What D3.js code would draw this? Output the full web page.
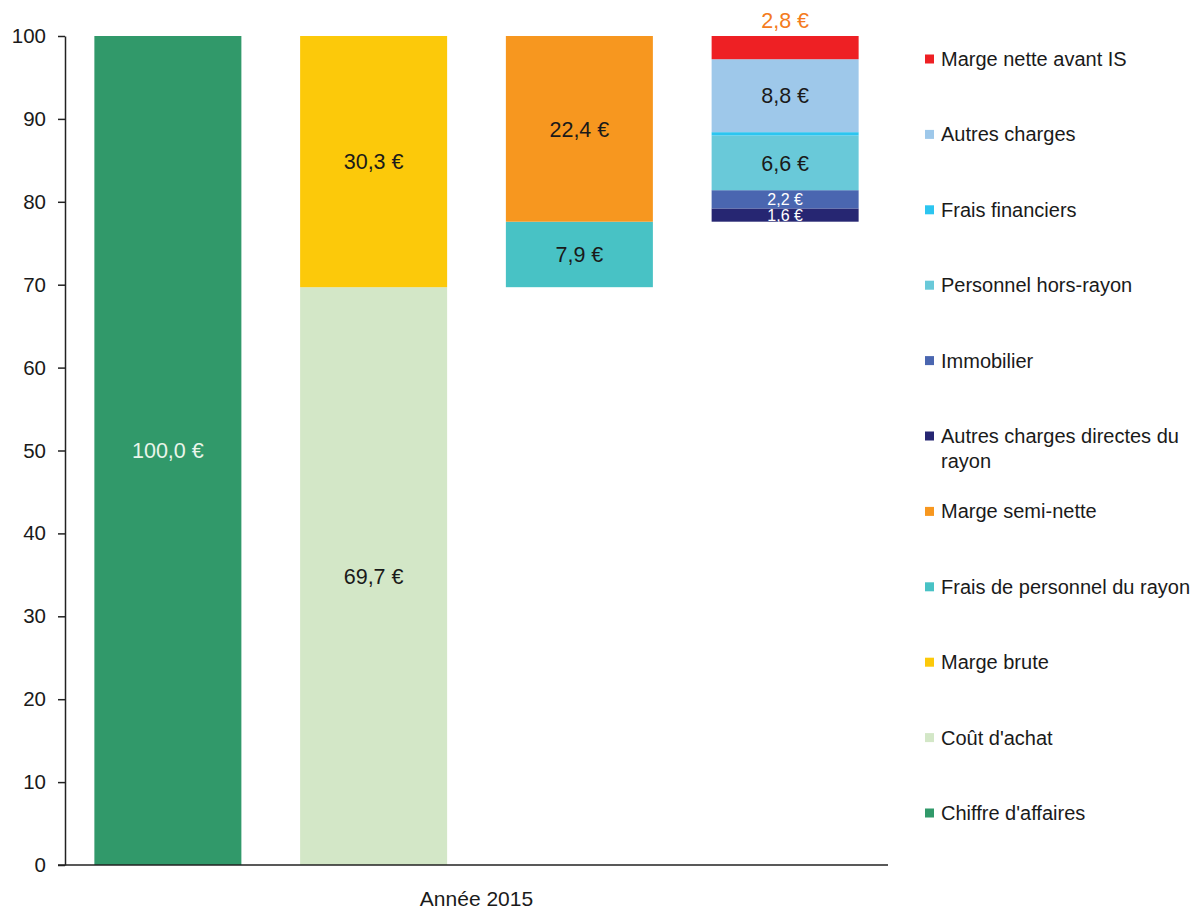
<!DOCTYPE html>
<html>
<head>
<meta charset="utf-8">
<script src="https://cdn.jsdelivr.net/npm/d3@7"></script>
<style>
  html, body { margin: 0; padding: 0; background: #fff; }
  svg { display: block; font-family: "Liberation Sans", Arial, sans-serif; }
</style>
</head>
<body>
<svg id="chart" width="1197" height="912"></svg>
<script>
// ---- data ----
const columns = [0, 1, 2, 3];
const columnBase = [0, 0, 69.7, 77.6];
const xLabel = "Année 2015";
const yTicks = [0, 10, 20, 30, 40, 50, 60, 70, 80, 90, 100];

// series in stacking order (bottom to top)
const seriesNames = [
  "Chiffre d'affaires", "Coût d'achat", "Marge brute",
  "Frais de personnel du rayon", "Marge semi-nette",
  "Autres charges directes du rayon", "Immobilier", "Personnel hors-rayon",
  "Frais financiers", "Autres charges", "Marge nette avant IS"
];
const seriesColumn = [0, 1, 1, 2, 2, 3, 3, 3, 3, 3, 3];
const seriesValues = [100.0, 69.7, 30.3, 7.9, 22.4, 1.6, 2.2, 6.6, 0.4, 8.8, 2.8];
const seriesLabels = ["100,0 €", "69,7 €", "30,3 €", "7,9 €", "22,4 €", "1,6 €", "2,2 €", "6,6 €", "", "8,8 €", "2,8 €"];
const seriesColors = [
  "#31996a", "#d3e7c7", "#fcc90a",
  "#48c2c5", "#f7971f",
  "#262672", "#4a66b0", "#69c9d9",
  "#2cc5f0", "#9ec8ea", "#ee2024"
];
const labelColors = ["#eaf5ea", "#1a1a1a", "#1a1a1a", "#1a1a1a", "#1a1a1a", "#ffffff", "#ffffff", "#1a1a1a", "#1a1a1a", "#1a1a1a", "#f47b20"];
const labelOutside = [false, false, false, false, false, false, false, false, false, false, true];
const labelSmall = [false, false, false, false, false, true, true, false, false, false, false];

// ---- layout ----
const svg = d3.select("#chart");
const mLeft = 65, mRight = 888, mTop = 36, mBottom = 865;

const x = d3.scaleBand().domain(columns).range([mLeft, mRight]).paddingInner(0.2855).paddingOuter(0.14275);
const y = d3.scaleLinear().domain([0, 100]).range([mBottom, mTop]);

// stacking
const running = columnBase.slice();
const segs = seriesNames.map((name, i) => {
  const c = seriesColumn[i];
  const y0 = running[c];
  const y1 = y0 + seriesValues[i];
  running[c] = y1;
  return { name, i, c, y0, y1 };
});

svg.append("g").selectAll("rect").data(segs).join("rect")
  .attr("x", d => x(d.c))
  .attr("width", x.bandwidth())
  .attr("y", d => y(d.y1))
  .attr("height", d => y(d.y0) - y(d.y1))
  .attr("fill", d => seriesColors[d.i]);

// labels
svg.append("g").selectAll("text").data(segs.filter(d => seriesLabels[d.i] !== "")).join("text")
  .attr("x", d => x(d.c) + x.bandwidth() / 2)
  .attr("y", d => labelOutside[d.i] ? y(d.y1) - 8 : (y(d.y0) + y(d.y1)) / 2)
  .attr("dy", d => labelOutside[d.i] ? "0" : "0.36em")
  .attr("text-anchor", "middle")
  .attr("font-size", d => labelSmall[d.i] ? 16 : 21.5)
  .attr("fill", d => labelColors[d.i])
  .text(d => seriesLabels[d.i]);

// y axis
const yAxis = svg.append("g")
  .attr("transform", `translate(${mLeft},0)`)
  .call(d3.axisLeft(y).tickValues(yTicks).tickSize(7).tickSizeOuter(0).tickPadding(12).tickFormat(d3.format("d")));
yAxis.select(".domain").attr("stroke", "#222").attr("stroke-width", 1.5);
yAxis.selectAll(".tick line").attr("stroke", "#222").attr("stroke-width", 1.5);
yAxis.selectAll(".tick text").attr("font-size", 20.5).attr("fill", "#1a1a1a").attr("font-family", "Liberation Sans, Arial, sans-serif");

// x axis line
svg.append("line")
  .attr("x1", mLeft - 7).attr("x2", mRight)
  .attr("y1", y(0)).attr("y2", y(0))
  .attr("stroke", "#222").attr("stroke-width", 1.5);

svg.append("text")
  .attr("x", (mLeft + mRight) / 2).attr("y", 906)
  .attr("text-anchor", "middle")
  .attr("font-size", 21).attr("fill", "#1a1a1a")
  .text(xLabel);

// legend (reverse order)
const legendItems = seriesNames.map((n, i) => i).reverse();
const legendY0 = 59, legendStep = 75.4;
const lg = svg.append("g");
legendItems.forEach((si, k) => {
  const cy = legendY0 + k * legendStep;
  lg.append("rect")
    .attr("x", 925).attr("y", cy - 4.5).attr("width", 9).attr("height", 9)
    .attr("fill", seriesColors[si]);
  const name = seriesNames[si];
  const t = lg.append("text")
    .attr("x", 941).attr("y", cy).attr("dy", "0.35em")
    .attr("font-size", 20).attr("fill", "#1a1a1a");
  if (name === "Autres charges directes du rayon") {
    t.append("tspan").attr("x", 941).text("Autres charges directes du");
    t.append("tspan").attr("x", 941).attr("dy", "1.25em").text("rayon");
  } else {
    t.text(name);
  }
});
</script>
</body>
</html>
